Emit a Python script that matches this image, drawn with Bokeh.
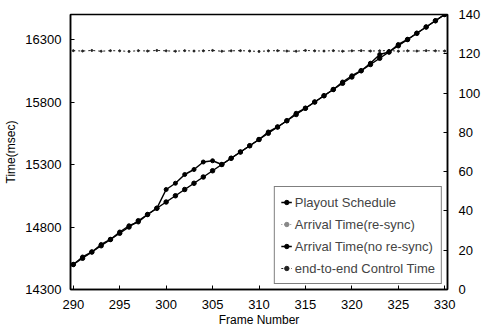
from bokeh.plotting import figure
from bokeh.models import Range1d, LinearAxis, FixedTicker, Legend, LegendItem
from bokeh.embed import file_html
from bokeh.resources import INLINE

frames = [290, 291, 292, 293, 294, 295, 296, 297, 298, 299, 300, 301, 302, 303, 304,
          305, 306, 307, 308, 309, 310, 311, 312, 313, 314, 315, 316, 317, 318, 319,
          320, 321, 322, 323, 324, 325, 326, 327, 328, 329, 330]
playout = [14500, 14550, 14600, 14650, 14700, 14750, 14800, 14850, 14900, 14950, 15000,
           15050, 15100, 15150, 15200, 15250, 15300, 15350, 15400, 15450, 15500, 15550,
           15600, 15650, 15700, 15750, 15800, 15850, 15900, 15950, 16000, 16050, 16100,
           16150, 16200, 16250, 16300, 16350, 16400, 16450, 16500]
arrival_resync = [14505, 14555, 14598, 14652, 14703, 14748, 14805, 14846, 14902, 14951, 15003,
                  15048, 15102, 15151, 15198, 15253, 15301, 15348, 15402, 15451, 15498, 15552,
                  15601, 15648, 15703, 15751, 15798, 15852, 15901, 15948, 16003, 16051, 16098,
                  16152, 16201, 16248, 16303, 16351, 16398, 16452, 16500]
arrival_noresync = [14500, 14560, 14600, 14660, 14700, 14760, 14810, 14840, 14900, 14950, 15100,
                    15150, 15220, 15260, 15320, 15330, 15300, 15350, 15400, 15450, 15500, 15560,
                    15600, 15650, 15710, 15750, 15800, 15850, 15900, 15960, 16010, 16050, 16110,
                    16180, 16200, 16260, 16300, 16350, 16400, 16450, 16500]
control_time = [121.6, 121.4, 121.7, 121.3, 121.6, 121.5, 121.2, 121.6, 121.4, 121.7, 121.5,
                121.3, 121.6, 121.4, 121.5, 121.7, 121.3, 121.5, 121.6, 121.4, 121.2, 121.5,
                121.6, 121.4, 121.3, 121.7, 121.5, 121.4, 121.6, 121.3, 121.5, 121.6, 121.4,
                121.5, 121.7, 121.3, 121.5, 121.4, 121.6, 121.5, 121.4]
x_ticks = [290, 295, 300, 305, 310, 315, 320, 325, 330]
left_ticks = [14300, 14800, 15300, 15800, 16300]
right_ticks = [0, 20, 40, 60, 80, 100, 120, 140]

FONT = "Liberation Sans"

p = figure(width=489, height=336, output_backend="svg", toolbar_location=None,
           x_range=Range1d(289.7, 330.3), y_range=Range1d(14300, 16500),
           min_border_left=70, min_border_right=42, min_border_top=14, min_border_bottom=47)
p.extra_y_ranges = {"ctl": Range1d(0, 140)}
p.xgrid.visible = False
p.ygrid.visible = False
p.outline_line_color = "black"
p.outline_line_width = 1.5
p.background_fill_color = "white"
p.border_fill_color = "white"

def style_axis(ax, ticks):
    ax.ticker = FixedTicker(ticks=ticks)
    ax.major_tick_in = 4
    ax.major_tick_out = 0
    ax.minor_tick_in = 0
    ax.minor_tick_out = 0
    ax.axis_line_color = "black"
    ax.axis_line_width = 1.5
    ax.major_label_text_font = FONT
    ax.major_label_text_font_size = "13px"
    ax.major_label_text_color = "black"
    ax.axis_label_text_font = FONT
    ax.axis_label_text_font_size = "12px"
    ax.axis_label_text_font_style = "normal"
    ax.axis_label_text_color = "black"

style_axis(p.xaxis[0], x_ticks)
p.xaxis[0].axis_label = "Frame Number"
p.xaxis[0].major_label_standoff = 10
p.xaxis[0].axis_label_standoff = 1
style_axis(p.yaxis[0], left_ticks)
p.yaxis[0].axis_label = "Time(msec)"
p.yaxis[0].major_label_standoff = 9
p.yaxis[0].axis_label_standoff = 4

rax = LinearAxis(y_range_name="ctl")
style_axis(rax, right_ticks)
rax.major_label_standoff = 11
p.add_layout(rax, "right")

r2l = p.line(frames, arrival_resync, line_color="#888888", line_width=1, line_dash="1 2")
r2m = p.scatter(frames, arrival_resync, marker="circle", size=2, fill_color="#888888", line_color="#888888")
r4l = p.line(frames, control_time, y_range_name="ctl", line_color="#222222", line_width=1, line_dash="2 3")
r4m = p.scatter(frames, control_time, y_range_name="ctl", marker="circle", size=2,
                fill_color="#222222", line_color="#222222")
r3l = p.line(frames, arrival_noresync, line_color="black", line_width=1.5)
r3m = p.scatter(frames, arrival_noresync, marker="circle", size=4, fill_color="black", line_color="black")
r1l = p.line(frames, playout, line_color="black", line_width=1.5)
r1m = p.scatter(frames, playout, marker="circle", size=4.5, fill_color="black", line_color="black")

legend = Legend(items=[
    LegendItem(label="Playout Schedule", renderers=[r1l, r1m]),
    LegendItem(label="Arrival Time(re-sync)", renderers=[r2l, r2m]),
    LegendItem(label="Arrival Time(no re-sync)", renderers=[r3l, r3m]),
    LegendItem(label="end-to-end Control Time", renderers=[r4l, r4m]),
], location="bottom_right")
legend.label_text_font = FONT
legend.label_text_font_size = "13px"
legend.label_height = 18
legend.glyph_height = 18
legend.glyph_width = 11
legend.label_standoff = 3
legend.spacing = 4
legend.padding = 6
legend.margin = 5
legend.border_line_color = "black"
legend.border_line_width = 1
legend.background_fill_alpha = 1
p.add_layout(legend)

open("out.html", "w").write(file_html(p, INLINE))
